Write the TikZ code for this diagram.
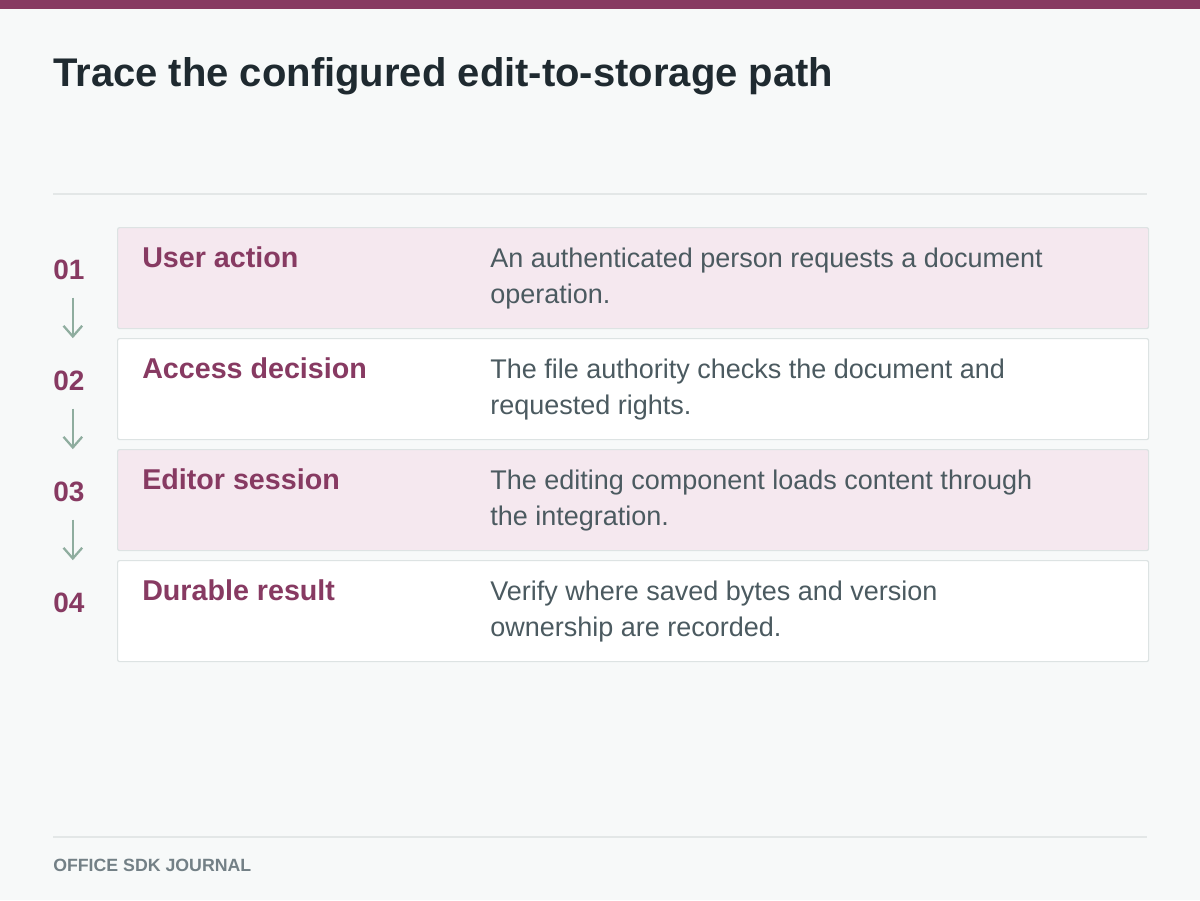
\documentclass[tikz,border=0pt]{standalone}
\usepackage{fontspec}
\setmainfont{Liberation Sans}
\usetikzlibrary{arrows.meta, positioning, calc}

\definecolor{plum}{HTML}{873A62}
\definecolor{paper}{HTML}{F7F9F9}
\definecolor{rowpink}{HTML}{F5E8EF}
\definecolor{rowline}{HTML}{DDE3E3}
\definecolor{rulegray}{HTML}{E3E7E7}
\definecolor{ink}{HTML}{1F2A30}
\definecolor{slate}{HTML}{4B5A60}
\definecolor{footgray}{HTML}{738086}
\definecolor{sage}{HTML}{8FAD9F}

\begin{document}
\begin{tikzpicture}[x=0.75pt,y=-0.75pt,
   rowbox/.style={draw=rowline,line width=0.9pt,rounded corners=1.5pt,anchor=north west,
                  minimum width=773.25pt,minimum height=75.75pt,inner sep=0pt},
   stepnum/.style={anchor=base west,inner sep=0pt,text=plum,font=\fontsize{21}{25}\selectfont\bfseries},
   steptitle/.style={anchor=base west,inner sep=0pt,text=plum,font=\fontsize{21.5}{25}\selectfont\bfseries},
   stepnote/.style={anchor=base west,inner sep=0pt,text=slate,align=left,font=\fontsize{20.25}{27}\selectfont},
   flow/.style={draw=sage,line width=1.7pt,-{Straight Barb[length=8pt,width=14pt,line width=1.7pt]}}]

   % Page
      \useasboundingbox (0,0) rectangle (1200,900);
      \fill[paper] (0,0) rectangle (1200,900);
      \fill[plum]  (0,0) rectangle (1200,9);
      \node[anchor=base west,inner sep=0pt,text=ink,font=\fontsize{30}{34}\selectfont\bfseries] (title) at (53,86) {Trace the configured edit-to-storage path};
      \draw[rulegray,line width=0.9pt] (53,194) -- (1147,194);

   % Rows
      \node[rowbox,fill=rowpink] (row1) at (117,227) {};
      \node[rowbox,fill=white]   (row2) at (117,338) {};
      \node[rowbox,fill=rowpink] (row3) at (117,449) {};
      \node[rowbox,fill=white]   (row4) at (117,560) {};

   % Numbers
      \node[stepnum] (num1) at (53,279) {01};
      \node[stepnum] (num2) at (53,390) {02};
      \node[stepnum] (num3) at (53,501) {03};
      \node[stepnum] (num4) at (53,612) {04};

   % Labels (a note's base is its second line)
      \node[steptitle] (lab1) at (142,267) {User action};
      \node[steptitle] (lab2) at (142,378) {Access decision};
      \node[steptitle] (lab3) at (142,489) {Editor session};
      \node[steptitle] (lab4) at (142,600) {Durable result};

      \node[stepnote] (txt1) at (490,303) {An authenticated person requests a document\\operation.};
      \node[stepnote] (txt2) at (490,414) {The file authority checks the document and\\requested rights.};
      \node[stepnote] (txt3) at (490,525) {The editing component loads content through\\the integration.};
      \node[stepnote] (txt4) at (490,636) {Verify where saved bytes and version\\ownership are recorded.};

   % Paths
      \draw[flow] ($(num1.south)+(4,18)$) -- ($(num2.north)+(4,-32)$);
      \draw[flow] ($(num2.south)+(4,18)$) -- ($(num3.north)+(4,-32)$);
      \draw[flow] ($(num3.south)+(4,18)$) -- ($(num4.north)+(4,-32)$);

   % Footer
      \draw[rulegray,line width=0.9pt] (53,837) -- (1147,837);
      \node[anchor=base west,inner sep=0pt,text=footgray,font=\fontsize{13.3}{16}\selectfont\bfseries] (foot) at (53,871) {OFFICE SDK JOURNAL};
\end{tikzpicture}
\end{document}
